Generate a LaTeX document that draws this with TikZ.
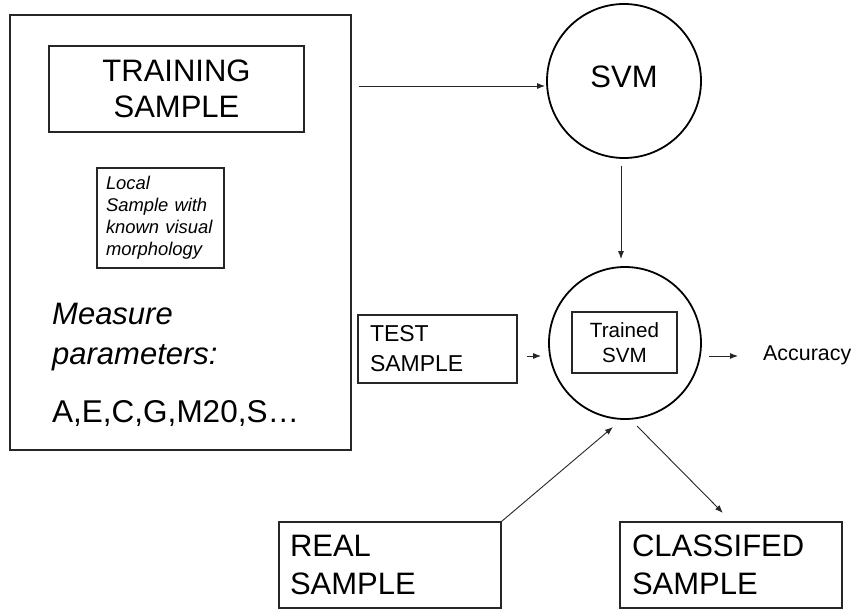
\documentclass[tikz,border=0pt]{standalone}
\usepackage{fontspec}
\setmainfont{Liberation Sans}
\usetikzlibrary{arrows.meta}
\begin{document}
\begin{tikzpicture}[x=1pt,y=-1pt,
  box/.style={draw=black!85, line width=1.2pt, inner sep=0pt},
  circ/.style={circle, draw=black, line width=1.8pt, inner sep=0pt},
  arr/.style={draw=black!85, line width=0.9pt, -{Latex[length=8pt,width=6pt]}},
  txt/.style={inner sep=0pt, anchor=base west}]
\fill[white] (0,0) rectangle (851,609);
\useasboundingbox (0,0) rectangle (851,609);
% left container
\node[box, minimum width=341pt, minimum height=435pt] (outer) at (180.5,232.5) {};
\node[box, minimum width=255pt, minimum height=86pt, align=center,
      font=\fontsize{31}{36}\selectfont] (train) at (176.5,89) {TRAINING\\SAMPLE};
\node[box, minimum width=127pt, minimum height=100pt, inner xsep=9pt, text width=109pt,
      align=left, font=\fontsize{18.4}{22}\selectfont\itshape] (local) at (160.5,218)
      {Local\\Sample with\\known visual\\morphology};
\node[txt, font=\fontsize{31}{36}\selectfont\itshape] (meas1) at (52,325) {Measure};
\node[txt, font=\fontsize{31}{36}\selectfont\itshape] (meas2) at (52,365) {parameters:};
\node[txt, font=\fontsize{31.5}{36}\selectfont] (params) at (52,422) {A,E,C,G,M20,S…};
% circles
\node[circ, minimum size=154pt, font=\fontsize{31}{36}\selectfont, text depth=8pt] (svm) at (624,81) {SVM};
\node[circ, minimum size=152pt] (trained) at (625,343) {};
\node[box, minimum width=105pt, minimum height=61pt, align=center,
      font=\fontsize{20.6}{25}\selectfont] (tsvm) at (624.5,342.5) {Trained\\SVM};
% test sample
\node[box, minimum width=159pt, minimum height=68pt, inner xsep=12pt, text width=135pt,
      align=left, font=\fontsize{23}{30}\selectfont] (test) at (437.5,349) {TEST\\SAMPLE};
\node[txt, font=\fontsize{21.4}{25}\selectfont] (acc) at (763,360) {Accuracy};
% bottom boxes
\node[box, minimum width=222pt, minimum height=86pt, inner xsep=11pt, text width=200pt,
      align=left, font=\fontsize{31}{38}\selectfont] (real) at (390,565) {REAL\\SAMPLE};
\node[box, minimum width=222pt, minimum height=86pt, inner xsep=12pt, text width=198pt,
      align=left, font=\fontsize{31}{38}\selectfont] (classified) at (731,565) {CLASSIFED\\SAMPLE};
% helper coordinates
\coordinate (yA) at (0,356);
\coordinate (yB) at (0,86);
\coordinate (rtip) at (613,427);
\coordinate (cstart) at (637,426);
\coordinate (ctip) at (723,513);
% connectors
\draw[arr, shorten <=7pt, shorten >=1pt] (outer.east |- yB) -- (svm.west |- yB);
\draw[arr] ([xshift=-3pt,yshift=-7pt]svm.south) -- ([xshift=-4pt,yshift=7pt]trained.north);
\draw[arr, shorten <=9pt, shorten >=7pt] (test.east |- yA) -- (trained.west |- yA);
\draw[arr, shorten <=7pt, shorten >=25pt] (trained.east |- yA) -- (acc.west |- yA);
\draw[arr] (real.north east) -- (rtip);
\draw[arr] (cstart) -- (ctip);
\end{tikzpicture}
\end{document}
